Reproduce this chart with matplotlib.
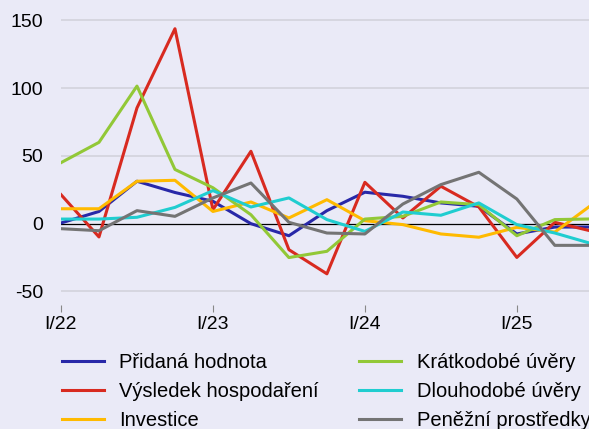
import numpy as np
import matplotlib.pyplot as plt

plt.rcParams['font.family'] = ['Liberation Sans', 'DejaVu Sans']

# quarterly data, I/22 .. III/25
quarters = np.arange(15)
tick_pos = [0, 4, 8, 12]
tick_labels = ['I/22', 'I/23', 'I/24', 'I/25']

pridana = [0.5, 9, 31.3, 23, 16.5, 0, -8.9, 9.6, 23.2, 20.2, 15.3, 12.8, -7.6, -2.5, -2.5]
vysledek = [21.4, -9.8, 85.4, 143.8, 10.3, 53.4, -19.2, -37, 30.5, 4.2, 27.6, 12.3, -24.9, 1, -5.7]
investice = [11, 11, 31.3, 32, 9, 16, 4.2, 17.7, 2.2, -0.7, -7.6, -10, -2.7, -6.2, 14.5]
kratkodobe = [45, 60, 101.5, 40, 26.5, 6.6, -25, -20.4, 3.4, 5.4, 16, 14, -8.9, 3, 3.5]
dlouhodobe = [3.4, 3.4, 4.7, 12, 24.4, 12.3, 19, 3, -5.7, 8.6, 6.2, 15.3, -0.7, -6.9, -15]
penezni = [-3.7, -5.2, 9.6, 5.4, 19, 30, 1, -6.9, -7.6, 14.5, 28.8, 37.9, 18.2, -16, -16]

series = [
    ('Přidaná hodnota', pridana, '#2828A8'),
    ('Výsledek hospodaření', vysledek, '#D82A20'),
    ('Investice', investice, '#FFBA00'),
    ('Krátkodobé úvěry', kratkodobe, '#92C837'),
    ('Dlouhodobé úvěry', dlouhodobe, '#20CDD0'),
    ('Peněžní prostředky', penezni, '#747474'),
]

bg = '#EAEAF7'
fig = plt.figure(figsize=(5.89, 4.29), dpi=100, facecolor=bg)
ax = fig.add_axes([61 / 589, 1 - 305 / 429, 1 - 61 / 589, 305 / 429])
ax.set_facecolor(bg)

for y in [150, 100, 50, -50]:
    ax.axhline(y, color='#D2D2DC', lw=1.2, zorder=0)
ax.axhline(0, color='black', lw=0.9, zorder=1)

for name, vals, col in series:
    ax.plot(quarters, vals, color=col, lw=2.2, label=name, zorder=2)

ax.set_xlim(0, 13.9)
ax.set_ylim(-60, 165)
ax.set_yticks([-50, 0, 50, 100, 150])
ax.set_yticklabels(['-50', '0', '50', '100', '150'])
ax.set_xticks(tick_pos)
ax.set_xticklabels(tick_labels)
ax.tick_params(axis='y', length=0, labelsize=14, pad=13)
ax.tick_params(axis='x', length=5, color='#888888', direction='out', labelsize=14, pad=3)
for s in ax.spines.values():
    s.set_visible(False)

fig.legend(loc='upper left', bbox_to_anchor=(62 / 589, 1 - 353 / 429), ncol=2,
           frameon=False, fontsize=14.5, handlelength=2.1, handletextpad=0.75,
           columnspacing=2.0, labelspacing=0.5, borderaxespad=0, borderpad=0)

fig.savefig('out.png', dpi=100, facecolor=bg)
